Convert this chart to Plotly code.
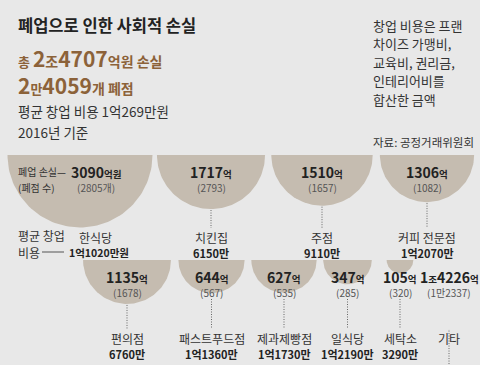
import math
import plotly.graph_objects as go

# ---------------- data ----------------
categories = ["한식당", "치킨집", "주점", "커피 전문점", "편의점",
              "패스트푸드점", "제과제빵점", "일식당", "세탁소", "기타"]
loss_eok = [3090, 1717, 1510, 1306, 1135, 644, 627, 347, 105, 14226]      # 억원
closures = [2805, 2793, 1657, 1082, 1678, 567, 535, 285, 320, 12337]       # 개
startup_cost_man = [11020, 6150, 9110, 12070, 6760, 11360, 11730, 12190, 3290, None]  # 만원
avg_startup_cost_man = 10269
base_year = 2016
note_lines = ["창업 비용은 프랜", "차이즈 가맹비,", "교육비, 권리금,", "인테리어비를", "합산한 금액"]
source = "자료: 공정거래위원회"

# ---------------- layout (positions / styles) ----------------
W, H = 480, 365
BG = "#e8e8e8"
CIRCLE = "#c5bcb0"
BROWN = "#8c6239"
DARK = "#222222"
MID = "#555555"
FONT = "Noto Sans CJK KR"

row_top = [155, 260]
slots = [(0, 80), (0, 211), (0, 322), (0, 427),
         (1, 127), (1, 211.5), (1, 284), (1, 347.5), (1, 400), (1, 449)]
draw_circle = [True] * 9 + [False]
K = 72.5 / math.sqrt(3090)  # radius scale: area proportional to loss


def fmt_eok(v):
    jo, e = divmod(v, 10000)
    if jo:
        return f"<b>{jo}</b><span style='font-size:9.5px'><b>조</b></span><b>{e}</b>"
    return f"<b>{e}</b>"


def fmt_count(v):
    man, r = divmod(v, 10000)
    return f"({man}만{r})" if man else f"({r})"


def fmt_man(v):
    eok, m = divmod(v, 10000)
    return f"{eok}억{m}만" if eok else f"{m}만"


fig = go.Figure()
ann = []


def text(x, y, s, size, color=DARK, xanchor="left", bold=False):
    ann.append(dict(x=x, y=y, xref="x", yref="y", text=f"<b>{s}</b>" if bold else s,
                    showarrow=False, xanchor=xanchor, yanchor="middle",
                    font=dict(family=FONT, size=size, color=color)))


for i, cat in enumerate(categories):
    row, cx = slots[i]
    top = row_top[row]
    r = K * math.sqrt(loss_eok[i])
    if draw_circle[i]:
        n = 80
        xs = [cx + r * math.cos(math.pi * k / n) for k in range(n + 1)]
        ys = [top + r * math.sin(math.pi * k / n) for k in range(n + 1)]
        fig.add_trace(go.Scatter(x=xs, y=ys, mode="lines", fill="toself",
                                 fillcolor=CIRCLE, line=dict(width=0),
                                 hoverinfo="skip", showlegend=False))
    tx = 96 if i == 0 else cx
    vy = top + 16.5
    cy = top + 32.5
    suffix = "억원" if i == 0 else "억"
    text(tx, vy, fmt_eok(loss_eok[i]) +
         f"<span style='font-size:9.5px'><b>{suffix}</b></span>", 14, DARK, "center")
    cnt = fmt_count(closures[i])
    if i == 0:
        cnt = cnt[:-1] + "개)"
    text(tx, cy, cnt, 10, MID, "center")

    # category labels
    ly = 237 if row == 0 else 338
    text(95 if i == 0 else cx, ly, cat, 12, "#333333", "center")
    if startup_cost_man[i] is not None:
        s = fmt_man(startup_cost_man[i]) + ("원" if i == 0 else "")
        if i == 0:
            text(67, ly + 15.5, s, 10.5, DARK, "left", bold=True)
        else:
            text(cx, ly + 15.5, s, 11, DARK, "center", bold=True)

    # dotted connector
    if i > 0:
        if row == 0:
            y0, y1 = top + r + 1, 228
        else:
            y0, y1 = max(top + r + 1, 299), 329
        fig.add_trace(go.Scatter(x=[cx, cx], y=[y0, y1], mode="lines",
                                 line=dict(color="#666666", width=1, dash="1px,1.5px"),
                                 hoverinfo="skip", showlegend=False))

# legend-like keys on first circle
text(16, 171.5, "폐업 손실—", 10, "#333333")
text(16, 187, "(폐점 수)", 10, "#333333")
text(16, 235, "평균 창업", 12, "#333333")
text(16, 252, "비용", 12, "#333333")
fig.add_trace(go.Scatter(x=[42, 64], y=[252, 252], mode="lines",
                         line=dict(color="#555555", width=1),
                         hoverinfo="skip", showlegend=False))

# header
total_loss = sum(loss_eok)
total_closures = sum(closures)
tl_jo, tl_e = divmod(total_loss, 10000)
tc_man, tc_r = divmod(total_closures, 10000)
text(16, 25, "폐업으로 인한 사회적 손실", 16.5, "#222222", bold=True)
text(16, 58, f"<span style='font-size:13px'><b>총 </b></span><b>{tl_jo}</b>"
     f"<span style='font-size:14px'><b>조</b></span><b>{tl_e}</b>"
     f"<span style='font-size:14px'><b>억원 손실</b></span>", 21, BROWN)
text(16, 85, f"<b>{tc_man}</b><span style='font-size:13px'><b>만</b></span><b>{tc_r}</b>"
     f"<span style='font-size:14px'><b>개 폐점</b></span>", 21, BROWN)
ae, am = divmod(avg_startup_cost_man, 10000)
text(16, 111, f"평균 창업 비용 {ae}억{am}만원", 13.5, "#333333")
text(16, 132, f"{base_year}년 기준", 13.5, "#333333")

for k, line in enumerate(note_lines):
    text(371, 25 + k * 18.5, line, 13, "#333333")
text(371, 142, source, 11.5, "#333333")

fig.update_layout(
    width=W, height=H, margin=dict(l=0, r=0, t=0, b=0),
    paper_bgcolor=BG, plot_bgcolor=BG,
    xaxis=dict(range=[0, W], visible=False, fixedrange=True),
    yaxis=dict(range=[H, 0], visible=False, fixedrange=True),
    annotations=ann, showlegend=False,
)
fig.write_html("out.html", config={"displayModeBar": False},
               post_script="document.body.style.margin='0';document.body.style.overflow='hidden';")
